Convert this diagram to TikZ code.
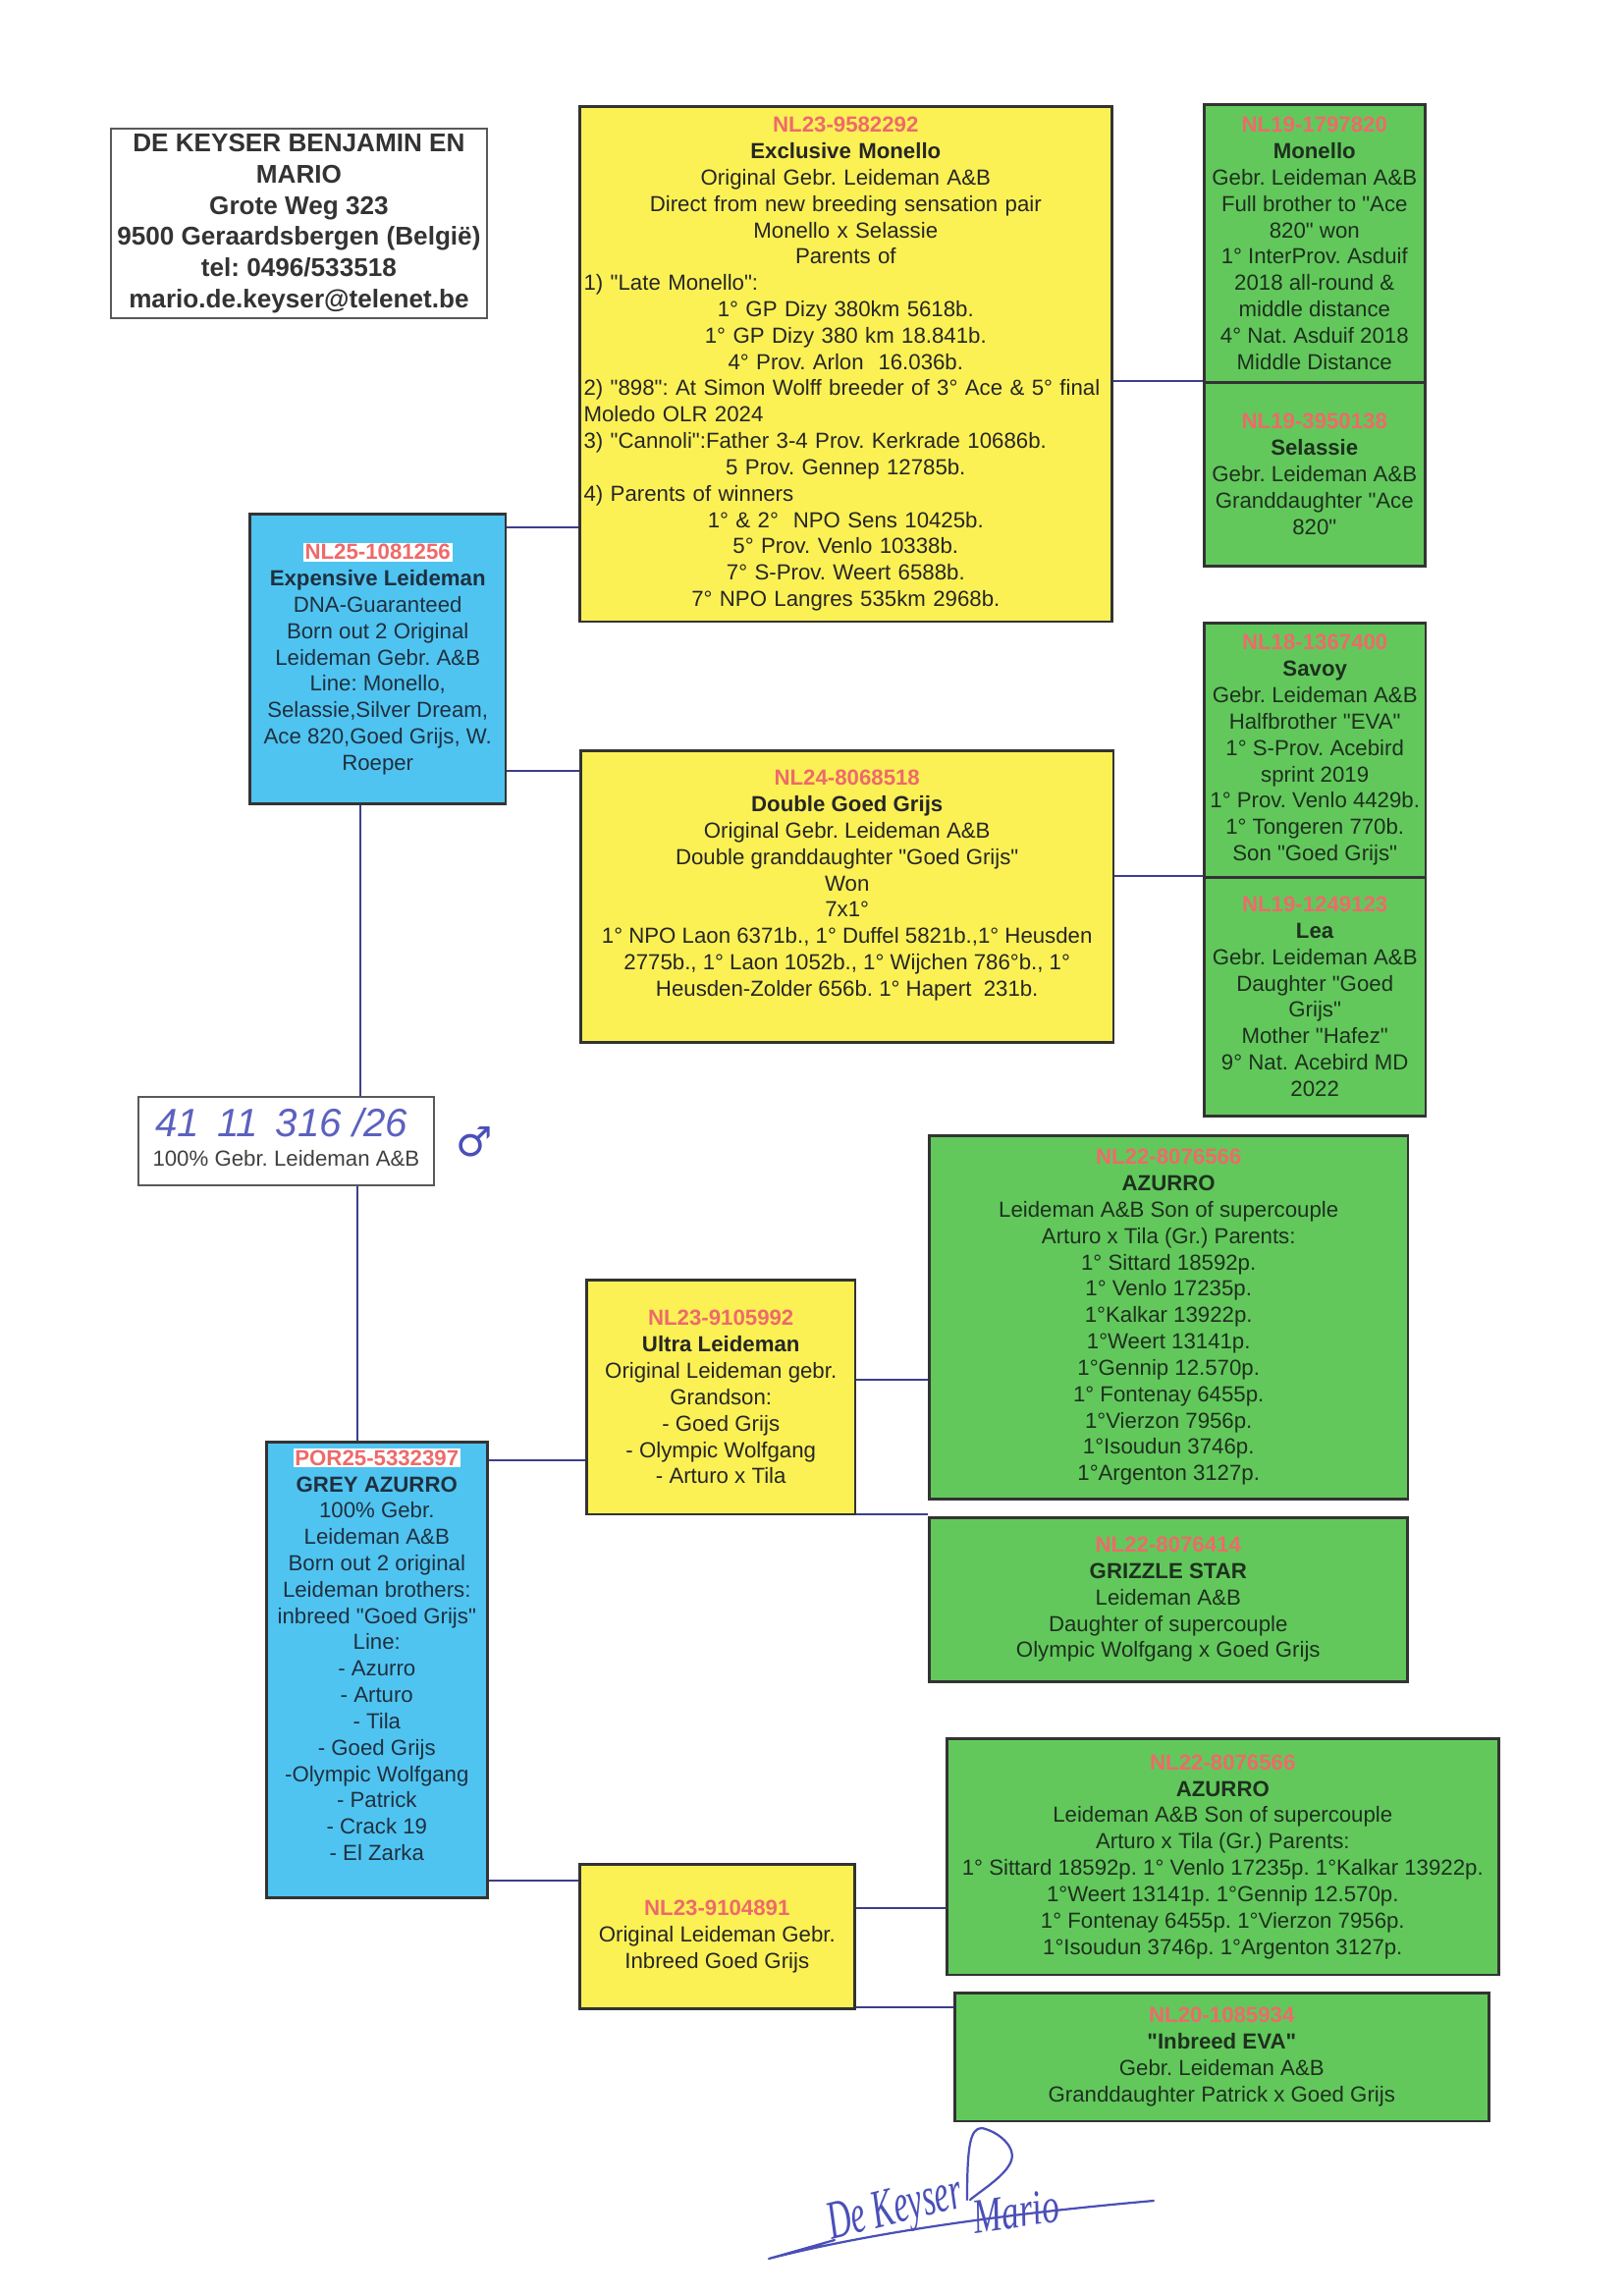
\documentclass[tikz,border=0pt]{standalone}
\usepackage{fontspec}
\usepackage{graphicx}
\setmainfont{Liberation Sans}[Ligatures=TeXOff]
\newfontfamily\djv{DejaVu Sans}
\newfontfamily\sigf{Liberation Serif}
\usetikzlibrary{calc}
\definecolor{yel}{HTML}{FBF155}
\definecolor{grn}{HTML}{62C85C}
\definecolor{blu}{HTML}{50C4F0}
\definecolor{idred}{HTML}{EE6A6A}
\definecolor{txt}{HTML}{262626}
\definecolor{gtxt}{HTML}{1E301E}
\definecolor{btxt}{HTML}{1E3040}
\definecolor{conn}{HTML}{3C3F8C}
\definecolor{ink}{HTML}{4A4FB8}
\definecolor{edge}{HTML}{333333}
\newcommand\idr[1]{\textcolor{idred}{\textbf{#1}}}
\newcommand\idw[1]{{\setlength\fboxsep{0.6pt}\colorbox{white}{\textcolor{idred}{\textbf{#1}}}}}
\newcommand\nm[1]{\textbf{#1}}
\newcommand\leftln[1]{\makebox[\hsize][l]{#1}}
\tikzset{
  base/.style={draw=edge, line width=0.9pt, rectangle, anchor=north west, align=center,
    inner sep=1pt, text=txt, font=\frenchspacing\fontsize{8}{9.65}\selectfont},
  ybox/.style={base, fill=yel},
  gbox/.style={base, fill=grn, text=gtxt},
  bbox/.style={base, fill=blu, text=btxt},
  wbox/.style={base, draw=black!65, line width=0.7pt, fill=white},
  link/.style={draw=conn, line width=0.65pt},
  inkline/.style={draw=ink, line width=0.8pt, line cap=round, line join=round},
  sig/.style={text=ink, inner sep=0pt}
}
\begin{document}
\frenchspacing
\begin{tikzpicture}[x=0.3599pt, y=-0.3599pt]
\useasboundingbox (0,0) rectangle (1654,2337);
\fill[white] (0,0) rectangle (1654,2337);

% address
\node[wbox, minimum width=137.8pt, minimum height=69.5pt, text=black!80,
  font=\frenchspacing\bfseries\fontsize{9.4}{11.4}\selectfont] (addr) at (112,130) {%
DE KEYSER BENJAMIN EN\\
MARIO\\
Grote Weg 323\\
9500 Geraardsbergen (België)\\
tel: 0496/533518\\
mario.de.keyser@telenet.be};

% upper branch
\node[ybox, minimum width=195.1pt, minimum height=188.9pt, text width=192pt, inner xsep=1.5pt] (mon) at (589,107) {%
\idr{NL23-9582292}\\
\nm{Exclusive Monello}\\
Original Gebr. Leideman A\&B\\
Direct from new breeding sensation pair\\
Monello x Selassie\\
Parents of\\
\leftln{1) "Late Monello":}\\
1° GP Dizy 380km 5618b.\\
1° GP Dizy 380 km 18.841b.\\
4° Prov. Arlon \ 16.036b.\\
\leftln{2) "898": At Simon Wolff breeder of 3° Ace \& 5° final}\\
\leftln{Moledo OLR 2024}\\
\leftln{3) "Cannoli":Father 3-4 Prov. Kerkrade 10686b.}\\
5 Prov. Gennep 12785b.\\
\leftln{4) Parents of winners}\\
1° \& 2° \ NPO Sens 10425b.\\
5° Prov. Venlo 10338b.\\
7° S-Prov. Weert 6588b.\\
7° NPO Langres 535km 2968b.};

\node[gbox, minimum width=81pt, minimum height=101.9pt] (gmon) at (1225,105) {%
\idr{NL19-1797820}\\
\nm{Monello}\\
Gebr. Leideman A\&B\\
Full brother to "Ace\\
820" won\\
1° InterProv. Asduif\\
2018 all-round \&\\
middle distance\\
4° Nat. Asduif 2018\\
Middle Distance};

\node[gbox, minimum width=81pt, minimum height=67.3pt] (gsel) at (1225,388) {%
\idr{NL19-3950138}\\
\nm{Selassie}\\
Gebr. Leideman A\&B\\
Granddaughter "Ace\\
820"};

\node[bbox, minimum width=93.9pt, minimum height=106.2pt] (exp) at (253,522) {%
\idw{NL25-1081256}\\
\nm{Expensive Leideman}\\
DNA-Guaranteed\\
Born out 2 Original\\
Leideman Gebr. A\&B\\
Line: Monello,\\
Selassie,Silver Dream,\\
Ace 820,Goed Grijs, W.\\
Roeper};

\node[ybox, minimum width=195.4pt, minimum height=106.9pt] (dgg) at (590,763) {%
\idr{NL24-8068518}\\
\nm{Double Goed Grijs}\\
Original Gebr. Leideman A\&B\\
Double granddaughter "Goed Grijs"\\
Won\\
7x1°\\
1° NPO Laon 6371b., 1° Duffel 5821b.,1° Heusden\\
2775b., 1° Laon 1052b., 1° Wijchen 786°b., 1°\\
Heusden-Zolder 656b. 1° Hapert \ 231b.\\\mbox{}};

\node[gbox, minimum width=81.3pt, minimum height=93.2pt] (sav) at (1225,633) {%
\idr{NL18-1367400}\\
\nm{Savoy}\\
Gebr. Leideman A\&B\\
Halfbrother "EVA"\\
1° S-Prov. Acebird\\
sprint 2019\\
1° Prov. Venlo 4429b.\\
1° Tongeren 770b.\\
Son "Goed Grijs"};

\node[gbox, minimum width=81.3pt, minimum height=87.5pt] (lea) at (1225,892) {%
\idr{NL19-1249123}\\
\nm{Lea}\\
Gebr. Leideman A\&B\\
Daughter "Goed\\
Grijs"\\
Mother "Hafez"\\
9° Nat. Acebird MD\\
2022};

% ring box
\node[wbox, minimum width=108.3pt, minimum height=32.4pt] (ring) at (140,1116) {};
\node[font=\fontsize{8}{9.65}\selectfont, text=black!75, inner sep=0pt] (ringtxt) at ($(ring.south)+(0,-28)$) {100\% Gebr. Leideman A\&B};
\node[font=\itshape\fontsize{14.5}{15}\selectfont, text=ink!90, inner sep=0pt] (ringno) at (287,1143) {41 \,11 \,316 /26};
\node[font=\djv\fontsize{15}{15}\selectfont, text=ink, inner sep=0pt] (male) at (483,1163) {♂};

% lower branch
\node[bbox, minimum width=81pt, minimum height=167pt] (grey) at (270,1467) {%
\idw{POR25-5332397}\\
\nm{GREY AZURRO}\\
100\% Gebr.\\
Leideman A\&B\\
Born out 2 original\\
Leideman brothers:\\
inbreed "Goed Grijs"\\
Line:\\
- Azurro\\
- Arturo\\
- Tila\\
- Goed Grijs\\
-Olympic Wolfgang\\
- Patrick\\
- Crack 19\\
- El Zarka\\[1.5pt]\mbox{}};

\node[ybox, minimum width=98.6pt, minimum height=86pt] (ultra) at (596,1302) {%
\idr{NL23-9105992}\\
\nm{Ultra Leideman}\\
Original Leideman gebr.\\
Grandson:\\
- Goed Grijs\\
- Olympic Wolfgang\\
- Arturo x Tila};

\node[gbox, minimum width=175.6pt, minimum height=133.2pt] (az1) at (945,1155) {%
\idr{NL22-8076566}\\
\nm{AZURRO}\\
Leideman A\&B Son of supercouple\\
Arturo x Tila (Gr.) Parents:\\
1° Sittard 18592p.\\
1° Venlo 17235p.\\
1°Kalkar 13922p.\\
1°Weert 13141p.\\
1°Gennip 12.570p.\\
1° Fontenay 6455p.\\
1°Vierzon 7956p.\\
1°Isoudun 3746p.\\
1°Argenton 3127p.};

\node[gbox, minimum width=175.3pt, minimum height=60.1pt] (griz) at (945,1544) {%
\idr{NL22-8076414}\\
\nm{GRIZZLE STAR}\\
Leideman A\&B\\
Daughter of supercouple\\
Olympic Wolfgang x Goed Grijs};

\node[ybox, minimum width=100.8pt, minimum height=52.9pt] (yinb) at (589,1897) {%
\idr{NL23-9104891}\\
Original Leideman Gebr.\\
Inbreed Goed Grijs};

\node[gbox, minimum width=202.3pt, minimum height=86.7pt] (az2) at (963,1769) {%
\idr{NL22-8076566}\\
\nm{AZURRO}\\
Leideman A\&B Son of supercouple\\
Arturo x Tila (Gr.) Parents:\\
1° Sittard 18592p. 1° Venlo 17235p. 1°Kalkar 13922p.\\
1°Weert 13141p. 1°Gennip 12.570p.\\
1° Fontenay 6455p. 1°Vierzon 7956p.\\
1°Isoudun 3746p. 1°Argenton 3127p.};

\node[gbox, minimum width=195.8pt, minimum height=47.1pt] (eva) at (971,2028) {%
\idr{NL20-1085934}\\
\nm{"Inbreed EVA"}\\
Gebr. Leideman A\&B\\
Granddaughter Patrick x Goed Grijs};

% connector levels
\coordinate (h1) at (0,537);
\coordinate (h2) at (0,785);
\coordinate (h3) at (0,388);
\coordinate (h4) at (0,892);
\coordinate (v1) at (367,0);
\coordinate (v2) at (364,0);
\coordinate (h5) at (0,1487);
\coordinate (h6) at (0,1915);
\coordinate (h7) at (0,1405);
\coordinate (h8) at (0,1542);
\coordinate (h9) at (0,1943);
\coordinate (h10) at (0,2044);

\draw[link] (exp.east |- h1) -- (mon.west |- h1);
\draw[link] (exp.east |- h2) -- (dgg.west |- h2);
\draw[link] (mon.east |- h3) -- (gmon.west |- h3);
\draw[link] (dgg.east |- h4) -- (sav.west |- h4);
\draw[link] (exp.south -| v1) -- (ring.north -| v1);
\draw[link] (ring.south -| v2) -- (grey.north -| v2);
\draw[link] (grey.east |- h5) -- (ultra.west |- h5);
\draw[link] (grey.east |- h6) -- (yinb.west |- h6);
\draw[link] (ultra.east |- h7) -- (az1.west |- h7);
\draw[link] (ultra.east |- h8) -- (griz.west |- h8);
\draw[link] (yinb.east |- h9) -- (az2.west |- h9);
\draw[link] (yinb.east |- h10) -- (eva.west |- h10);

% signature
\node[sig, rotate=14] (sig1) at (912,2252) {\scalebox{0.6}[1]{\sigf\itshape\fontsize{20}{20}\selectfont De Keyser}};
\node[sig, rotate=8] (sig2) at (1035,2252) {\scalebox{0.7}[1]{\sigf\itshape\fontsize{18}{18}\selectfont Mario}};
\draw[inkline] (850,2281) -- (783,2300) .. controls (900,2270) and (1050,2252) .. (1175,2241);
\draw[inkline] (985,2240) .. controls (985,2185) and (988,2167) .. (1000,2167)
  .. controls (1015,2170) and (1035,2185) .. (1030,2200)
  .. controls (1025,2215) and (1000,2230) .. (988,2240);
\end{tikzpicture}
\end{document}
